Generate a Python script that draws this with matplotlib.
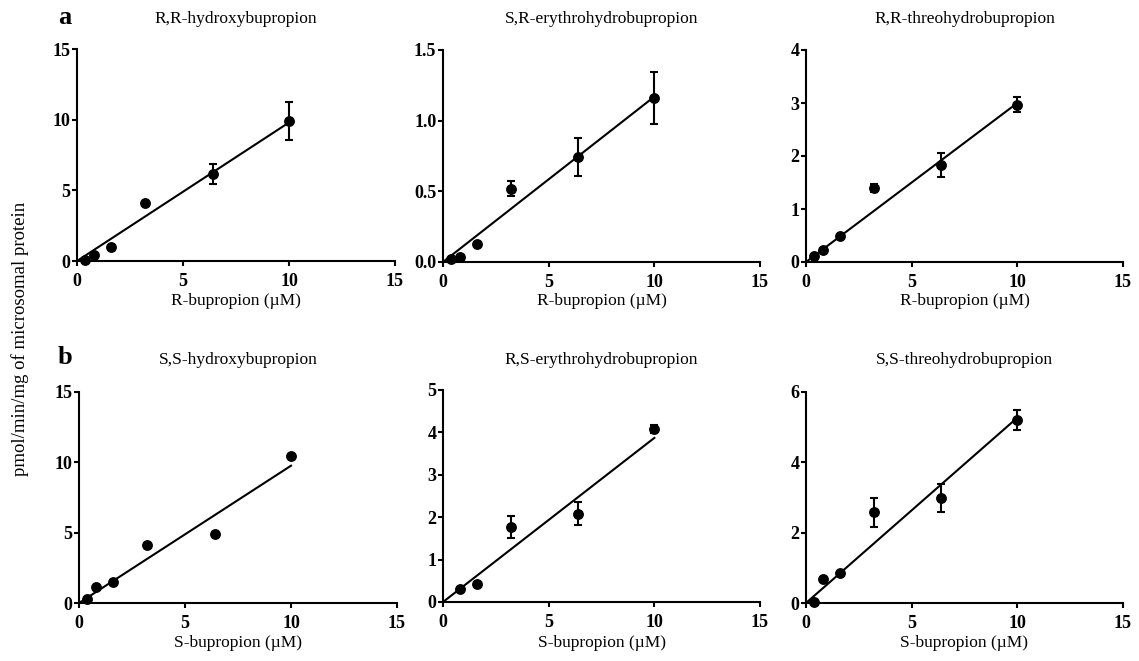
import numpy as np
import matplotlib
matplotlib.use("Agg")
import matplotlib.pyplot as plt

plt.rcParams['font.family'] = ['Liberation Serif', 'DejaVu Serif']

W, H = 1139, 661

# concentrations (uM)
conc = [0.4, 0.8, 1.6, 3.2, 6.4, 10.0]
conc_rs_erythro = [0.8, 1.6, 3.2, 6.4, 10.0]

titles = ["R,R-hydroxybupropion", "S,R-erythrohydrobupropion", "R,R-threohydrobupropion",
          "S,S-hydroxybupropion", "R,S-erythrohydrobupropion", "S,S-threohydrobupropion"]
xlabels = ["R-bupropion (\u00b5M)"] * 3 + ["S-bupropion (\u00b5M)"] * 3

rr_hydroxy = [0.05, 0.43, 1.02, 4.08, 6.13, 9.90]
rr_hydroxy_err = [0, 0, 0, 0, 0.70, 1.35]
sr_erythro = [0.024, 0.035, 0.13, 0.52, 0.745, 1.16]
sr_erythro_err = [0, 0, 0, 0.055, 0.135, 0.185]
rr_threo = [0.12, 0.23, 0.485, 1.40, 1.83, 2.97]
rr_threo_err = [0, 0, 0, 0.08, 0.22, 0.145]
ss_hydroxy = [0.30, 1.16, 1.50, 4.10, 4.94, 10.47]
ss_hydroxy_err = [0, 0, 0, 0, 0, 0]
rs_erythro = [0.31, 0.43, 1.78, 2.08, 4.08]
rs_erythro_err = [0, 0, 0.26, 0.27, 0.10]
ss_threo = [0.03, 0.69, 0.85, 2.58, 2.99, 5.21]
ss_threo_err = [0, 0, 0, 0.42, 0.39, 0.28]

# fitted slopes of regression lines (pmol/min/mg per uM)
slopes = [0.98, 0.117, 0.30, 0.976, 0.387, 0.527]

yticks = [[0, 5, 10, 15], [0.0, 0.5, 1.0, 1.5], [0, 1, 2, 3, 4],
          [0, 5, 10, 15], [0, 1, 2, 3, 4, 5], [0, 2, 4, 6]]
ytick_labels = [["0", "5", "10", "15"], ["0.0", "0.5", "1.0", "1.5"], ["0", "1", "2", "3", "4"],
                ["0", "5", "10", "15"], ["0", "1", "2", "3", "4", "5"], ["0", "2", "4", "6"]]
xticks = [0, 5, 10, 15]

series = [(conc, rr_hydroxy, rr_hydroxy_err), (conc, sr_erythro, sr_erythro_err),
          (conc, rr_threo, rr_threo_err), (conc, ss_hydroxy, ss_hydroxy_err),
          (conc_rs_erythro, rs_erythro, rs_erythro_err), (conc, ss_threo, ss_threo_err)]

# axes pixel boxes: left, right, top, bottom
boxes = [(77, 395, 49, 261), (443, 760, 50, 262), (806, 1123, 50, 262),
         (79, 397, 392, 603), (443, 760, 390, 602), (806, 1123, 392, 603)]

fig = plt.figure(figsize=(W / 100, H / 100), dpi=100)

for i in range(6):
    L, R, T, B = boxes[i]
    ax = fig.add_axes([L / W, 1 - B / H, (R - L) / W, (B - T) / H])
    x, y, e = series[i]
    x = np.array(x); y = np.array(y); e = np.array(e)
    xl = np.array([0.0, 10.0])
    ax.plot(xl, slopes[i] * xl, color='black', lw=1.5, clip_on=False, zorder=2)
    m = e > 0
    if m.any():
        ax.errorbar(x[m], y[m], yerr=e[m], fmt='none', ecolor='black', elinewidth=1.5,
                    capsize=3.2, capthick=1.5, clip_on=False, zorder=3)
    ax.plot(x, y, 'o', color='black', ms=6.8, clip_on=False, zorder=4)
    ax.set_xlim(0, 15)
    ax.set_ylim(yticks[i][0], yticks[i][-1])
    ax.set_xticks(xticks)
    ax.set_xticklabels([str(t) for t in xticks])
    ax.set_yticks(yticks[i])
    ax.set_yticklabels(ytick_labels[i])
    for s in ['top', 'right']:
        ax.spines[s].set_visible(False)
    for s in ['left', 'bottom']:
        ax.spines[s].set_linewidth(1.5)
    ax.tick_params(direction='out', length=3.8, width=1.5, labelsize=13, pad=1)
    ax.tick_params(axis='x', pad=5)
    for lab in ax.get_xticklabels() + ax.get_yticklabels():
        lab.set_fontweight('bold')
    ax.patch.set_alpha(0)
    cx = (L + R) / 2
    ty = 19 if i < 3 else 360
    ly = 301 if i < 3 else 643
    fig.text(cx / W, 1 - ty / H, titles[i], ha='center', va='center', fontsize=12.5)
    fig.text(cx / W, 1 - ly / H, xlabels[i], ha='center', va='center', fontsize=12.5)

fig.text(65 / W, 1 - 17 / H, "a", ha='center', va='center', fontsize=19, fontweight='bold')
fig.text(65 / W, 1 - 358 / H, "b", ha='center', va='center', fontsize=19, fontweight='bold')
fig.text(20 / W, 1 - 339 / H, "pmol/min/mg of microsomal protein", ha='center', va='center',
         rotation=90, fontsize=13.5)

fig.savefig("out.png", dpi=100)
